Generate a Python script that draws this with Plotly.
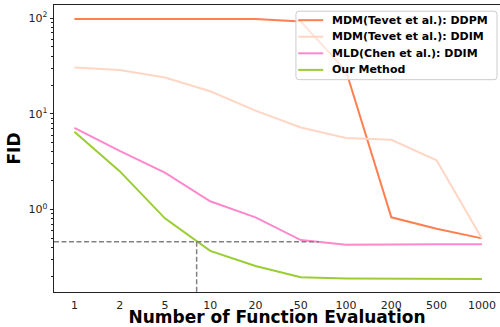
import numpy as np
import plotly.graph_objects as go

# ---- data ----
nfe_labels = ["1", "2", "5", "10", "20", "50", "100", "200", "500", "1000"]
mdm_ddpm = [98, 98, 98, 98, 98, 92, 28, 0.83, 0.63, 0.50]
mdm_ddim = [30.5, 28.7, 24, 17.2, 10.8, 7.2, 5.6, 5.35, 3.27, 0.50]
mld_ddim = [7.15, 4.1, 2.43, 1.22, 0.83, 0.48, 0.43, 0.435, 0.435, 0.435]
ours = [6.5, 2.52, 0.81, 0.37, 0.257, 0.196, 0.191, 0.189, 0.188, 0.188]

names = ["MDM(Tevet et al.): DDPM", "MDM(Tevet et al.): DDIM",
         "MLD(Chen et al.): DDIM", "Our Method"]
colors = ["#FF7F50", "#FFD6C4", "#FF88CC", "#9ACD32"]

# reference guide (dashed)
ref_fid = 0.46
ref_x = 2.7
ref_x_end = 5.4

X_MIN, X_MAX = -0.45, 9.40
Y_LOG_MIN, Y_LOG_MAX = -0.861, 2.137

W, H = 500, 327
ML, MR, MT, MB = 53.5, 0, 4.5, 35
PW, PH = W - ML - MR, H - MT - MB

x_idx = list(range(len(nfe_labels)))

fig = go.Figure()
for name, vals, col in zip(names, [mdm_ddpm, mdm_ddim, mld_ddim, ours], colors):
    fig.add_trace(go.Scatter(x=x_idx, y=vals, mode="lines", name=name,
                             line=dict(color=col, width=2), showlegend=False))

fig.add_trace(go.Scatter(x=[X_MIN, ref_x_end], y=[ref_fid, ref_fid], mode="lines",
                         showlegend=False,
                         line=dict(color="#808080", width=1.5, dash="5px,2.5px")))
fig.add_trace(go.Scatter(x=[ref_x, ref_x], y=[ref_fid, 10 ** Y_LOG_MIN], mode="lines",
                         showlegend=False,
                         line=dict(color="#808080", width=1.5, dash="5px,2.5px")))

minor_vals = []
for d in [0.1, 1, 10]:
    for m in range(2, 10):
        minor_vals.append(m * d)

font_family = "DejaVu Sans"


# ---- legend box (matplotlib-like), in pixel -> paper conversion ----
def px(xp):
    return (xp - ML) / PW


def py(yp):
    return 1 - (yp - MT) / PH


box_l, box_r, box_t, box_b = 295.7, 497.0, 10.7, 79.3
r = 3.0
rx, ry = r / PW, r / PH
L, R, T, B = px(box_l), px(box_r), py(box_t), py(box_b)
path = (f"M{L + rx},{T} L{R - rx},{T} Q{R},{T} {R},{T - ry} "
        f"L{R},{B + ry} Q{R},{B} {R - rx},{B} "
        f"L{L + rx},{B} Q{L},{B} {L},{B + ry} "
        f"L{L},{T - ry} Q{L},{T} {L + rx},{T} Z")
shapes = [dict(type="path", xref="paper", yref="paper", path=path,
               fillcolor="rgba(255,255,255,0.8)", line=dict(color="#cccccc", width=1),
               layer="above")]
annotations = []
row_y = [19.7, 36.3, 52.9, 69.5]
for name, col, yy in zip(names, colors, row_y):
    shapes.append(dict(type="line", xref="paper", yref="paper",
                       x0=px(298), x1=px(323), y0=py(yy), y1=py(yy),
                       line=dict(color=col, width=2), layer="above"))
    annotations.append(dict(xref="paper", yref="paper", x=px(331), y=py(yy),
                            xanchor="left", yanchor="middle", showarrow=False,
                            text=name, borderpad=0,
                            font=dict(family=font_family, size=11, color="black",
                                      weight="bold")))

fig.update_layout(
    width=W, height=H,
    margin=dict(l=ML, r=MR, t=MT, b=MB),
    paper_bgcolor="white", plot_bgcolor="white",
    font=dict(family=font_family, size=11, color="#111"),
    showlegend=False,
    shapes=shapes,
    annotations=annotations,
    xaxis=dict(
        range=[X_MIN, X_MAX], tickmode="array", tickvals=x_idx, ticktext=nfe_labels,
        showgrid=False, zeroline=False, automargin=False,
        showline=True, linecolor="#222", linewidth=1, mirror=True,
        ticks="outside", ticklen=2.5, tickcolor="rgba(0,0,0,0)",
        tickfont=dict(size=11, color="#222"),
        title=dict(text="Number of Function Evaluation", standoff=6,
                   font=dict(size=17, color="black", weight="bold")),
    ),
    yaxis=dict(
        type="log", range=[Y_LOG_MIN, Y_LOG_MAX], automargin=False,
        tickmode="array", tickvals=[1, 10, 100],
        ticktext=["10<sup>0</sup>", "10<sup>1</sup>", "10<sup>2</sup>"],
        showgrid=False, zeroline=False,
        showline=True, linecolor="#222", linewidth=1, mirror=False,
        ticks="outside", ticklen=3.5, tickcolor="#222", tickwidth=1,
        tickfont=dict(size=11, color="#222"),
        minor=dict(tickmode="array", tickvals=minor_vals, ticks="outside",
                   ticklen=2, tickcolor="#222", tickwidth=0.8, showgrid=False),
        title=dict(text="FID", standoff=3,
                   font=dict(size=17, color="black", weight="bold")),
    ),
)

fig.write_html("out.html", config={"displayModeBar": False},
               post_script="document.body.style.margin='0';document.body.style.overflow='hidden';")
